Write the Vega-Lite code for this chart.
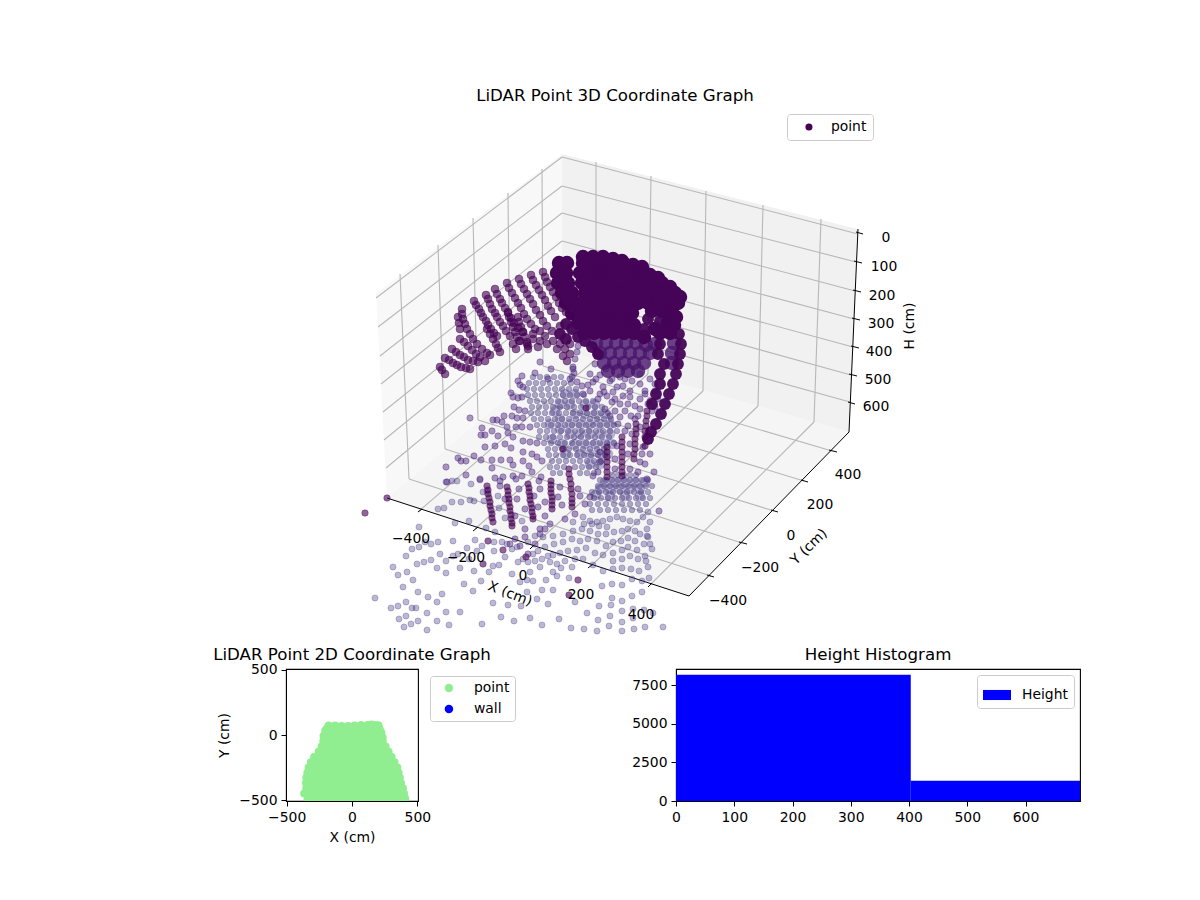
{
"$schema":"https://vega.github.io/schema/vega-lite/v6.json",
"padding":{"left":212,"top":88,"right":0,"bottom":0},
"background":"white",
"config":{"font":"DejaVu Sans","view":{"stroke":"black","strokeWidth":1.1},
"title":{"font":"DejaVu Sans","fontSize":16.67,"fontWeight":"normal","color":"black"},
"axis":{"grid":false,"labelFont":"DejaVu Sans","titleFont":"DejaVu Sans","labelFontSize":13.9,"titleFontSize":13.9,"titleFontWeight":"normal","labelColor":"black","titleColor":"black","tickColor":"black","domainColor":"black","tickSize":5,"labelPadding":4,"labelOverlap":false,"labelFlush":false,"labelBound":false,"format":"d"},
"legend":{"labelFont":"DejaVu Sans","labelFontSize":13.9,"labelColor":"black","fillColor":"white","strokeColor":"#cccccc","cornerRadius":3}},
"datasets":{
"panes":[{"p":"l","u":376,"v":294,"w":294},{"p":"l","u":387,"v":286,"w":499},{"p":"l","u":562,"v":155,"w":351},
{"p":"r","u":562,"v":155,"w":351},{"p":"r","u":849,"v":228,"w":433},{"p":"r","u":858,"v":230,"w":230},
{"p":"f","u":387,"v":499,"w":499},{"p":"f","u":563,"v":351,"w":556},{"p":"f","u":689,"v":387,"w":597},{"p":"f","u":849,"v":433,"w":433}],
"grid":[{"u":562,"v":158,"a":858,"b":235},{"u":562,"v":187,"a":856,"b":263},{"u":562,"v":214,"a":855,"b":292},{"u":562,"v":242,"a":854,"b":320},{"u":562,"v":269,"a":853,"b":348},{"u":562,"v":296,"a":851,"b":376},{"u":562,"v":323,"a":850,"b":403},
{"u":562,"v":158,"a":376,"b":299},{"u":562,"v":187,"a":378,"b":328},{"u":562,"v":214,"a":380,"b":357},{"u":562,"v":242,"a":381,"b":385},{"u":562,"v":269,"a":383,"b":413},{"u":562,"v":296,"a":384,"b":441},{"u":562,"v":323,"a":386,"b":469},
{"u":596,"v":163,"a":596,"b":360},{"u":651,"v":177,"a":648,"b":375},{"u":706,"v":192,"a":703,"b":392},{"u":763,"v":206,"a":758,"b":407},{"u":821,"v":220,"a":814,"b":423},
{"u":400,"v":275,"a":409,"b":480},{"u":438,"v":246,"a":445,"b":450},{"u":473,"v":219,"a":478,"b":421},{"u":508,"v":194,"a":510,"b":393},{"u":542,"v":170,"a":543,"b":367},
{"u":596,"v":360,"a":419,"b":512},{"u":648,"v":375,"a":475,"b":530},{"u":703,"v":392,"a":532,"b":548},{"u":758,"v":407,"a":591,"b":567},{"u":814,"v":423,"a":650,"b":586},
{"u":409,"v":480,"a":711,"b":577},{"u":445,"v":450,"a":742,"b":544},{"u":478,"v":421,"a":774,"b":512},{"u":510,"v":393,"a":804,"b":482},{"u":543,"v":367,"a":832,"b":452}],
"axes":[{"u":858,"v":230,"a":849,"b":433},{"u":849,"v":433,"a":689,"b":597},{"u":387,"v":499,"a":689,"b":597},
{"u":418,"v":513,"a":422,"b":510},{"u":473,"v":532,"a":478,"b":528},{"u":530,"v":550,"a":534,"b":546},{"u":588,"v":569,"a":593,"b":565},{"u":648,"v":588,"a":652,"b":584},
{"u":707,"v":576,"a":714,"b":578},{"u":739,"v":543,"a":747,"b":545},{"u":771,"v":511,"a":778,"b":513},{"u":801,"v":481,"a":808,"b":483},{"u":829,"v":451,"a":837,"b":453},
{"u":856,"v":233,"a":863,"b":235},{"u":854,"v":262,"a":862,"b":264},{"u":853,"v":291,"a":861,"b":293},{"u":852,"v":319,"a":860,"b":321},{"u":851,"v":347,"a":859,"b":349},{"u":849,"v":375,"a":857,"b":377},{"u":848,"v":403,"a":855,"b":405}],
"ticktext":[{"u":411,"v":540,"t":"−400"},{"u":466,"v":559,"t":"−200"},{"u":523,"v":577,"t":"0"},{"u":581,"v":596,"t":"200"},{"u":641,"v":616,"t":"400"},
{"u":728,"v":602,"t":"−400"},{"u":760,"v":569,"t":"−200"},{"u":791,"v":537,"t":"0"},{"u":820,"v":506,"t":"200"},{"u":848,"v":476,"t":"400"},
{"u":886,"v":239,"t":"0"},{"u":884,"v":268,"t":"100"},{"u":882,"v":297,"t":"200"},{"u":881,"v":325,"t":"300"},{"u":879,"v":353,"t":"400"},{"u":878,"v":381,"t":"500"},{"u":876,"v":408,"t":"600"}],
"floor":[{"u":419,"v":528},{"u":412,"v":550},{"u":419,"v":548},{"u":425,"v":543},{"u":431,"v":545},{"u":438,"v":543},{"u":453,"v":542},{"u":475,"v":541},{"u":406,"v":557},{"u":393,"v":568},{"u":398,"v":576},{"u":407,"v":573},{"u":413,"v":581},{"u":403,"v":588},{"u":417,"v":565},{"u":424,"v":563},{"u":431,"v":561},{"u":440,"v":555},{"u":446,"v":562},{"u":437,"v":569},{"u":446,"v":574},{"u":460,"v":569},{"u":474,"v":572},{"u":464,"v":585},{"u":481,"v":582},{"u":473,"v":592},{"u":418,"v":593},{"u":428,"v":598},{"u":442,"v":595},{"u":437,"v":603},{"u":406,"v":603},{"u":398,"v":607},{"u":391,"v":609},{"u":375,"v":599},{"u":412,"v":609},{"u":416,"v":609},{"u":427,"v":614},{"u":446,"v":613},{"u":460,"v":613},{"u":406,"v":617},{"u":399,"v":620},{"u":418,"v":622},{"u":411,"v":625},{"u":404,"v":628},{"u":437,"v":622},{"u":449,"v":626},{"u":427,"v":631},{"u":482,"v":625},{"u":501,"v":618},{"u":514,"v":622},{"u":493,"v":604},{"u":508,"v":606},{"u":521,"v":607},{"u":512,"v":575},{"u":527,"v":581},{"u":455,"v":524},{"u":469,"v":522},{"u":438,"v":510},{"u":444,"v":509},{"u":452,"v":503},{"u":461,"v":503},{"u":470,"v":501},{"u":474,"v":502},{"u":446,"v":483},{"u":452,"v":482},{"u":457,"v":482},{"u":471,"v":485},{"u":480,"v":481},{"u":483,"v":493},{"u":487,"v":492},{"u":498,"v":497},{"u":484,"v":502},{"u":499,"v":509},{"u":505,"v":519},{"u":522,"v":522},{"u":486,"v":529},{"u":495,"v":533},{"u":467,"v":549},{"u":458,"v":555},{"u":453,"v":557},{"u":469,"v":560},{"u":477,"v":552},{"u":482,"v":547},{"u":494,"v":552},{"u":494,"v":543},{"u":502,"v":543},{"u":507,"v":545},{"u":517,"v":548},{"u":512,"v":550},{"u":505,"v":558},{"u":499,"v":566},{"u":493,"v":567},{"u":489,"v":573},{"u":518,"v":563},{"u":523,"v":560},{"u":520,"v":583},
{"u":652,"v":550},{"u":650,"v":545},{"u":648,"v":538},{"u":647,"v":530},{"u":650,"v":523},{"u":648,"v":513},{"u":643,"v":518},{"u":637,"v":523},{"u":630,"v":522},{"u":623,"v":520},{"u":617,"v":518},{"u":610,"v":520},{"u":603,"v":522},{"u":597,"v":523},{"u":590,"v":522},{"u":583,"v":518},{"u":573,"v":523},{"u":645,"v":557},{"u":646,"v":562},{"u":638,"v":560},{"u":630,"v":557},{"u":622,"v":560},{"u":613,"v":562},{"u":603,"v":556},{"u":595,"v":554},{"u":586,"v":549},{"u":577,"v":551},{"u":568,"v":552},{"u":560,"v":554},{"u":553,"v":556},{"u":548,"v":557},{"u":542,"v":560},{"u":535,"v":562},{"u":528,"v":563},{"u":637,"v":551},{"u":628,"v":548},{"u":622,"v":551},{"u":613,"v":554},{"u":606,"v":547},{"u":597,"v":542},{"u":588,"v":540},{"u":580,"v":542},{"u":572,"v":540},{"u":563,"v":543},{"u":554,"v":545},{"u":545,"v":548},{"u":538,"v":552},{"u":533,"v":555},{"u":644,"v":545},{"u":635,"v":542},{"u":628,"v":539},{"u":621,"v":542},{"u":613,"v":543},{"u":606,"v":535},{"u":598,"v":535},{"u":590,"v":532},{"u":582,"v":530},{"u":573,"v":532},{"u":563,"v":535},{"u":553,"v":537},{"u":543,"v":538},{"u":535,"v":537},{"u":528,"v":543},{"u":647,"v":537},{"u":640,"v":535},{"u":635,"v":532},{"u":628,"v":530},{"u":622,"v":532},{"u":614,"v":533},{"u":607,"v":528},{"u":599,"v":527},{"u":592,"v":525},{"u":584,"v":525},{"u":648,"v":568},{"u":639,"v":572},{"u":631,"v":570},{"u":622,"v":569},{"u":613,"v":570},{"u":603,"v":572},{"u":593,"v":566},{"u":583,"v":560},{"u":575,"v":560},{"u":565,"v":562},{"u":557,"v":565},{"u":550,"v":563},{"u":540,"v":568},{"u":530,"v":573},{"u":649,"v":579},{"u":642,"v":582},{"u":632,"v":580},{"u":622,"v":586},{"u":612,"v":585},{"u":602,"v":587},{"u":572,"v":568},{"u":561,"v":569},{"u":553,"v":573},{"u":546,"v":581},{"u":557,"v":577},{"u":569,"v":579},{"u":533,"v":582},{"u":542,"v":591},{"u":553,"v":591},{"u":527,"v":593},{"u":642,"v":593},{"u":632,"v":597},{"u":612,"v":599},{"u":622,"v":602},{"u":599,"v":607},{"u":611,"v":606},{"u":587,"v":614},{"u":575,"v":603},{"u":548,"v":605},{"u":537,"v":600},{"u":622,"v":612},{"u":633,"v":610},{"u":644,"v":611},{"u":653,"v":614},{"u":610,"v":617},{"u":598,"v":621},{"u":622,"v":623},{"u":633,"v":619},{"u":530,"v":619},{"u":559,"v":620},{"u":542,"v":626},{"u":571,"v":629},{"u":584,"v":630},{"u":597,"v":632},{"u":609,"v":627},{"u":622,"v":632},{"u":634,"v":630},{"u":645,"v":628},{"u":663,"v":628}],
"fan":[{"u":533,"v":378},{"u":540,"v":378},{"u":547,"v":378},{"u":554,"v":378},{"u":561,"v":378},{"u":529,"v":384},{"u":536,"v":384},{"u":543,"v":384},{"u":550,"v":384},{"u":557,"v":384},{"u":564,"v":384},{"u":571,"v":384},{"u":527,"v":390},{"u":534,"v":390},{"u":541,"v":390},{"u":548,"v":390},{"u":555,"v":390},{"u":562,"v":390},{"u":569,"v":390},{"u":576,"v":390},{"u":528,"v":396},{"u":535,"v":396},{"u":542,"v":396},{"u":549,"v":396},{"u":556,"v":396},{"u":563,"v":396},{"u":570,"v":396},{"u":577,"v":396},{"u":584,"v":396},{"u":530,"v":402},{"u":537,"v":402},{"u":544,"v":402},{"u":551,"v":402},{"u":558,"v":402},{"u":565,"v":402},{"u":572,"v":402},{"u":579,"v":402},{"u":586,"v":402},{"u":593,"v":402},{"u":532,"v":408},{"u":539,"v":408},{"u":546,"v":408},{"u":553,"v":408},{"u":560,"v":408},{"u":567,"v":408},{"u":574,"v":408},{"u":581,"v":408},{"u":588,"v":408},{"u":595,"v":408},{"u":602,"v":408},{"u":531,"v":414},{"u":538,"v":414},{"u":545,"v":414},{"u":552,"v":414},{"u":559,"v":414},{"u":566,"v":414},{"u":573,"v":414},{"u":580,"v":414},{"u":587,"v":414},{"u":594,"v":414},{"u":601,"v":414},{"u":608,"v":414},{"u":534,"v":420},{"u":541,"v":420},{"u":548,"v":420},{"u":555,"v":420},{"u":562,"v":420},{"u":569,"v":420},{"u":576,"v":420},{"u":583,"v":420},{"u":590,"v":420},{"u":597,"v":420},{"u":604,"v":420},{"u":611,"v":420},{"u":537,"v":426},{"u":544,"v":426},{"u":551,"v":426},{"u":558,"v":426},{"u":565,"v":426},{"u":572,"v":426},{"u":579,"v":426},{"u":586,"v":426},{"u":593,"v":426},{"u":600,"v":426},{"u":607,"v":426},{"u":614,"v":426},{"u":540,"v":432},{"u":547,"v":432},{"u":554,"v":432},{"u":561,"v":432},{"u":568,"v":432},{"u":575,"v":432},{"u":582,"v":432},{"u":589,"v":432},{"u":596,"v":432},{"u":603,"v":432},{"u":610,"v":432},{"u":617,"v":432},{"u":539,"v":438},{"u":546,"v":438},{"u":553,"v":438},{"u":560,"v":438},{"u":567,"v":438},{"u":574,"v":438},{"u":581,"v":438},{"u":588,"v":438},{"u":595,"v":438},{"u":602,"v":438},{"u":609,"v":438},{"u":544,"v":444},{"u":551,"v":444},{"u":558,"v":444},{"u":565,"v":444},{"u":572,"v":444},{"u":579,"v":444},{"u":586,"v":444},{"u":593,"v":444},{"u":600,"v":444},{"u":607,"v":444},{"u":614,"v":444},{"u":548,"v":450},{"u":555,"v":450},{"u":562,"v":450},{"u":569,"v":450},{"u":576,"v":450},{"u":583,"v":450},{"u":590,"v":450},{"u":597,"v":450},{"u":604,"v":450},{"u":549,"v":456},{"u":556,"v":456},{"u":563,"v":456},{"u":570,"v":456},{"u":577,"v":456},{"u":584,"v":456},{"u":591,"v":456},{"u":598,"v":456},{"u":605,"v":456},{"u":552,"v":462},{"u":559,"v":462},{"u":566,"v":462},{"u":573,"v":462},{"u":580,"v":462},{"u":587,"v":462},{"u":594,"v":462},{"u":601,"v":462},{"u":550,"v":468},{"u":557,"v":468},{"u":564,"v":468},{"u":575,"v":468},{"u":582,"v":468},{"u":589,"v":468},{"u":596,"v":468},{"u":553,"v":474},{"u":560,"v":474},{"u":580,"v":474},{"u":587,"v":474},{"u":594,"v":474},
{"u":612,"v":476},{"u":618,"v":476},{"u":624,"v":476},{"u":630,"v":476},{"u":636,"v":476},{"u":600,"v":481},{"u":606,"v":481},{"u":612,"v":481},{"u":618,"v":481},{"u":624,"v":481},{"u":630,"v":481},{"u":636,"v":481},{"u":642,"v":481},{"u":648,"v":481},{"u":598,"v":487},{"u":604,"v":487},{"u":610,"v":487},{"u":616,"v":487},{"u":622,"v":487},{"u":628,"v":487},{"u":634,"v":487},{"u":640,"v":487},{"u":646,"v":487},{"u":652,"v":487},{"u":592,"v":493},{"u":599,"v":493},{"u":606,"v":493},{"u":613,"v":493},{"u":620,"v":493},{"u":627,"v":493},{"u":634,"v":493},{"u":641,"v":493},{"u":648,"v":493},{"u":594,"v":499},{"u":601,"v":499},{"u":608,"v":499},{"u":615,"v":499},{"u":622,"v":499},{"u":629,"v":499},{"u":636,"v":499},{"u":643,"v":499},{"u":650,"v":499},{"u":590,"v":505},{"u":598,"v":505},{"u":606,"v":505},{"u":614,"v":505},{"u":622,"v":505},{"u":630,"v":505},{"u":638,"v":505},{"u":646,"v":505},{"u":592,"v":511},{"u":600,"v":511},{"u":608,"v":511},{"u":616,"v":511},{"u":624,"v":511},{"u":632,"v":511},{"u":640,"v":511}],
"core":[{"u":585,"v":405},{"u":595,"v":405},{"u":575,"v":415},{"u":585,"v":415},{"u":595,"v":415},{"u":605,"v":415},{"u":570,"v":425},{"u":580,"v":425},{"u":590,"v":425},{"u":600,"v":425},{"u":610,"v":425},{"u":570,"v":435},{"u":580,"v":435},{"u":590,"v":435},{"u":600,"v":435},{"u":610,"v":435},{"u":575,"v":445},{"u":585,"v":445},{"u":595,"v":445},{"u":605,"v":445},{"u":612,"v":445},{"u":580,"v":455},{"u":590,"v":455},{"u":600,"v":455},{"u":608,"v":455},{"u":590,"v":465},{"u":600,"v":465},{"u":605,"v":483},{"u":615,"v":483},{"u":625,"v":483},{"u":635,"v":483},{"u":645,"v":483},{"u":600,"v":490},{"u":610,"v":490},{"u":620,"v":490},{"u":630,"v":490},{"u":640,"v":490},{"u":560,"v":420},{"u":560,"v":430},{"u":562,"v":445},{"u":566,"v":455},{"u":570,"v":405},{"u":560,"v":405},{"u":550,"v":425},{"u":552,"v":440},{"u":555,"v":412},{"u":575,"v":395},{"u":565,"v":395},{"u":596,"v":496},{"u":610,"v":497},{"u":625,"v":497},{"u":640,"v":497}],
"mid":[{"u":470,"v":419},{"u":493,"v":421},{"u":497,"v":421},{"u":504,"v":417},{"u":512,"v":417},{"u":482,"v":429},{"u":481,"v":436},{"u":485,"v":436},{"u":492,"v":432},{"u":498,"v":437},{"u":502,"v":423},{"u":507,"v":428},{"u":508,"v":434},{"u":513,"v":438},{"u":485,"v":448},{"u":495,"v":447},{"u":505,"v":445},{"u":511,"v":449},{"u":474,"v":457},{"u":458,"v":459},{"u":461,"v":462},{"u":466,"v":462},{"u":481,"v":461},{"u":492,"v":461},{"u":501,"v":461},{"u":510,"v":461},{"u":513,"v":466},{"u":523,"v":462},{"u":529,"v":467},{"u":492,"v":469},{"u":446,"v":468},{"u":466,"v":476},{"u":447,"v":483},{"u":480,"v":480},{"u":495,"v":479},{"u":500,"v":482},{"u":513,"v":477},{"u":522,"v":477},{"u":532,"v":473},{"u":539,"v":482},
{"u":511,"v":394},{"u":513,"v":398},{"u":518,"v":399},{"u":522,"v":398},{"u":514,"v":408},{"u":519,"v":411},{"u":525,"v":412},{"u":517,"v":419},{"u":523,"v":419},{"u":516,"v":428},{"u":522,"v":428},{"u":530,"v":428},{"u":523,"v":442},{"u":530,"v":443},{"u":537,"v":444},{"u":523,"v":453},{"u":532,"v":455},{"u":537,"v":458},{"u":542,"v":462},{"u":518,"v":382},{"u":520,"v":386},{"u":523,"v":388},{"u":522,"v":377},{"u":535,"v":374},{"u":551,"v":370},{"u":548,"v":380},{"u":540,"v":363},{"u":575,"v":360},{"u":573,"v":370},{"u":578,"v":347},{"u":577,"v":353},{"u":572,"v":378},
{"u":573,"v":368},{"u":574,"v":374},{"u":570,"v":380},{"u":577,"v":383},{"u":582,"v":387},{"u":588,"v":386},{"u":593,"v":383},{"u":600,"v":376},{"u":603,"v":388},{"u":604,"v":393},{"u":598,"v":400},{"u":607,"v":397},{"u":613,"v":393},{"u":617,"v":388},{"u":623,"v":387},{"u":630,"v":392},{"u":623,"v":397},{"u":620,"v":405},{"u":628,"v":405},{"u":635,"v":407},{"u":640,"v":400},{"u":640,"v":410},{"u":638,"v":417},{"u":620,"v":418},{"u":631,"v":417},{"u":625,"v":432},{"u":628,"v":427},{"u":612,"v":403},{"u":615,"v":412},{"u":610,"v":417},{"u":642,"v":455},{"u":643,"v":448},{"u":640,"v":463},{"u":647,"v":480},{"u":638,"v":473},{"u":630,"v":470},{"u":617,"v":447},{"u":615,"v":460},{"u":615,"v":470},{"u":600,"v":453},{"u":600,"v":463},{"u":598,"v":473},{"u":593,"v":477},{"u":654,"v":473},{"u":659,"v":512},
{"u":540,"v":490},{"u":534,"v":497},{"u":545,"v":503},{"u":558,"v":498},{"u":562,"v":506},{"u":580,"v":497},{"u":585,"v":505},{"u":575,"v":515},{"u":565,"v":520},{"u":545,"v":517},{"u":538,"v":508},{"u":525,"v":510},{"u":517,"v":500},{"u":519,"v":490},{"u":500,"v":487},{"u":505,"v":500},{"u":515,"v":517},{"u":550,"v":525},{"u":540,"v":530},{"u":525,"v":530},{"u":578,"v":490},{"u":590,"v":498},{"u":560,"v":488},{"u":541,"v":478},{"u":516,"v":480},{"u":503,"v":478},{"u":525,"v":538},{"u":535,"v":545},{"u":540,"v":535},{"u":528,"v":555},{"u":545,"v":530},{"u":520,"v":547},{"u":510,"v":545},{"u":515,"v":540},
{"u":640,"v":375},{"u":650,"v":380},{"u":645,"v":392},{"u":655,"v":392},{"u":650,"v":402},{"u":652,"v":412},{"u":606,"v":370},{"u":620,"v":378},{"u":632,"v":382},{"u":595,"v":365},{"u":590,"v":375},
{"u":596,"v":380},{"u":610,"v":382},{"u":625,"v":380},{"u":640,"v":385},{"u":655,"v":385},{"u":600,"v":395},{"u":615,"v":400},{"u":630,"v":398},{"u":645,"v":395},{"u":658,"v":400},{"u":605,"v":410},{"u":625,"v":412},{"u":635,"v":420},{"u":648,"v":405},{"u":655,"v":408},{"u":618,"v":425},{"u":632,"v":435},{"u":640,"v":428},{"u":630,"v":445},{"u":628,"v":455},{"u":645,"v":465},{"u":650,"v":455},{"u":612,"v":380},{"u":590,"v":392},{"u":583,"v":395}],
"stripe":[{"u":474,"v":302},{"u":476,"v":306},{"u":479,"v":310},{"u":481,"v":314},{"u":483,"v":318},{"u":486,"v":322},{"u":488,"v":326},{"u":491,"v":330},{"u":494,"v":334},{"u":497,"v":337},{"u":486,"v":296},{"u":488,"v":300},{"u":490,"v":305},{"u":492,"v":310},{"u":495,"v":314},{"u":497,"v":318},{"u":500,"v":323},{"u":503,"v":327},{"u":506,"v":332},{"u":510,"v":337},{"u":495,"v":290},{"u":497,"v":295},{"u":500,"v":300},{"u":502,"v":304},{"u":505,"v":309},{"u":508,"v":314},{"u":511,"v":319},{"u":514,"v":324},{"u":518,"v":329},{"u":523,"v":333},{"u":507,"v":284},{"u":509,"v":289},{"u":512,"v":294},{"u":515,"v":299},{"u":518,"v":304},{"u":521,"v":309},{"u":524,"v":315},{"u":527,"v":320},{"u":531,"v":325},{"u":535,"v":330},{"u":519,"v":280},{"u":521,"v":285},{"u":524,"v":290},{"u":527,"v":295},{"u":530,"v":300},{"u":533,"v":305},{"u":536,"v":311},{"u":540,"v":316},{"u":543,"v":322},{"u":547,"v":327},{"u":531,"v":276},{"u":533,"v":281},{"u":536,"v":286},{"u":539,"v":291},{"u":542,"v":296},{"u":545,"v":301},{"u":548,"v":307},{"u":551,"v":312},{"u":555,"v":318},{"u":560,"v":327},{"u":543,"v":273},{"u":545,"v":278},{"u":547,"v":283},{"u":550,"v":288},{"u":553,"v":293},{"u":556,"v":298},{"u":559,"v":304},{"u":562,"v":309},{"u":566,"v":313},{"u":570,"v":317},{"u":462,"v":310},{"u":462,"v":315},{"u":463,"v":320},{"u":465,"v":325},{"u":467,"v":330},{"u":470,"v":335},{"u":473,"v":340},{"u":477,"v":345},{"u":482,"v":350},{"u":487,"v":354},{"u":490,"v":356},{"u":458,"v":318},{"u":459,"v":324},{"u":460,"v":330},{"u":452,"v":350},{"u":456,"v":353},{"u":460,"v":356},{"u":464,"v":358},{"u":468,"v":361},{"u":473,"v":362},{"u":478,"v":363},{"u":445,"v":359},{"u":449,"v":361},{"u":453,"v":364},{"u":457,"v":366},{"u":461,"v":368},{"u":466,"v":369},{"u":470,"v":370},{"u":440,"v":368},{"u":442,"v":371},{"u":445,"v":375},{"u":460,"v":340},{"u":464,"v":343},{"u":468,"v":347},{"u":472,"v":351},{"u":476,"v":355},{"u":480,"v":358},{"u":485,"v":362},{"u":487,"v":330},{"u":490,"v":335},{"u":493,"v":340},{"u":496,"v":345},{"u":498,"v":349},{"u":500,"v":353},
{"u":508,"v":313},{"u":509,"v":318},{"u":511,"v":323},{"u":513,"v":328},{"u":515,"v":333},{"u":517,"v":338},{"u":519,"v":342},{"u":518,"v":318},{"u":519,"v":323},{"u":521,"v":328},{"u":523,"v":333},{"u":525,"v":338},{"u":527,"v":343},{"u":528,"v":347},{"u":513,"v":345},{"u":520,"v":342},{"u":527,"v":345},{"u":533,"v":340},{"u":540,"v":342},{"u":547,"v":345},{"u":553,"v":342},{"u":560,"v":345},{"u":565,"v":350},{"u":570,"v":345},{"u":557,"v":350},{"u":563,"v":357},{"u":567,"v":362},{"u":570,"v":355},{"u":538,"v":348},{"u":528,"v":350},{"u":516,"v":350},{"u":533,"v":335},{"u":540,"v":332},{"u":545,"v":337},{"u":552,"v":332}],
"dark":[{"u":647,"v":412},{"u":647,"v":417},{"u":646,"v":422},{"u":646,"v":427},{"u":645,"v":432},{"u":645,"v":438},{"u":636,"v":425},{"u":636,"v":430},{"u":636,"v":435},{"u":635,"v":440},{"u":635,"v":445},{"u":635,"v":450},{"u":634,"v":455},{"u":634,"v":460},{"u":622,"v":438},{"u":622,"v":443},{"u":622,"v":448},{"u":622,"v":453},{"u":622,"v":458},{"u":622,"v":463},{"u":622,"v":468},{"u":622,"v":473},{"u":622,"v":477},{"u":607,"v":448},{"u":607,"v":453},{"u":607,"v":458},{"u":607,"v":463},{"u":607,"v":468},{"u":607,"v":473},{"u":607,"v":478},{"u":569,"v":470},{"u":569,"v":475},{"u":570,"v":480},{"u":571,"v":485},{"u":571,"v":490},{"u":572,"v":495},{"u":572,"v":500},{"u":572,"v":504},{"u":572,"v":508},{"u":487,"v":487},{"u":488,"v":491},{"u":488,"v":495},{"u":489,"v":499},{"u":490,"v":503},{"u":490,"v":507},{"u":491,"v":511},{"u":492,"v":515},{"u":492,"v":519},{"u":493,"v":523},{"u":507,"v":488},{"u":508,"v":492},{"u":508,"v":496},{"u":509,"v":500},{"u":509,"v":504},{"u":510,"v":508},{"u":510,"v":512},{"u":511,"v":516},{"u":511,"v":520},{"u":512,"v":524},{"u":512,"v":527},{"u":528,"v":485},{"u":529,"v":489},{"u":529,"v":493},{"u":530,"v":497},{"u":530,"v":501},{"u":531,"v":505},{"u":532,"v":509},{"u":532,"v":513},{"u":533,"v":517},{"u":533,"v":520},{"u":551,"v":482},{"u":551,"v":486},{"u":551,"v":490},{"u":551,"v":494},{"u":552,"v":498},{"u":552,"v":502},{"u":552,"v":506},{"u":552,"v":510},
{"u":365,"v":514},{"u":387,"v":499},{"u":488,"v":542},{"u":503,"v":551},{"u":483,"v":565},{"u":578,"v":581},{"u":569,"v":596},{"u":586,"v":409},{"u":563,"v":450},{"u":526,"v":558},{"u":645,"v":447}],
"band":[{"u":679,"v":335},{"u":681,"v":345},{"u":680,"v":355},{"u":678,"v":365},{"u":676,"v":375},{"u":673,"v":385},{"u":669,"v":395},{"u":665,"v":405},{"u":661,"v":415},{"u":656,"v":425},{"u":651,"v":433},{"u":648,"v":440},{"u":566,"v":325},{"u":572,"v":330},{"u":578,"v":338},{"u":585,"v":342},{"u":592,"v":348},{"u":598,"v":355},{"u":566,"v":340},{"u":560,"v":335},{"u":648,"v":320},{"u":660,"v":322},{"u":644,"v":330},{"u":660,"v":345},{"u":658,"v":355},{"u":664,"v":365},{"u":660,"v":375},{"u":660,"v":385},{"u":656,"v":395},{"u":652,"v":405}],
"mass":[{"u":559,"v":264},{"u":567,"v":264},{"u":583,"v":258},{"u":593,"v":258},{"u":603,"v":258},{"u":613,"v":260},{"u":622,"v":262},{"u":583,"v":264},{"u":593,"v":264},{"u":603,"v":264},{"u":613,"v":264},{"u":623,"v":264},{"u":633,"v":266},{"u":642,"v":268},{"u":557,"v":274},{"u":566,"v":274},{"u":580,"v":274},{"u":590,"v":274},{"u":600,"v":274},{"u":610,"v":274},{"u":620,"v":274},{"u":630,"v":274},{"u":640,"v":274},{"u":650,"v":276},{"u":658,"v":279},{"u":558,"v":284},{"u":568,"v":284},{"u":582,"v":284},{"u":592,"v":284},{"u":602,"v":284},{"u":612,"v":284},{"u":622,"v":284},{"u":632,"v":284},{"u":642,"v":284},{"u":652,"v":284},{"u":662,"v":284},{"u":670,"v":288},{"u":562,"v":294},{"u":572,"v":294},{"u":585,"v":294},{"u":595,"v":294},{"u":605,"v":294},{"u":615,"v":294},{"u":625,"v":294},{"u":635,"v":294},{"u":645,"v":294},{"u":655,"v":294},{"u":665,"v":294},{"u":675,"v":294},{"u":680,"v":298},{"u":566,"v":304},{"u":576,"v":304},{"u":588,"v":304},{"u":598,"v":304},{"u":608,"v":304},{"u":618,"v":304},{"u":628,"v":304},{"u":638,"v":304},{"u":648,"v":304},{"u":658,"v":304},{"u":668,"v":304},{"u":678,"v":304},{"u":572,"v":314},{"u":582,"v":314},{"u":592,"v":314},{"u":602,"v":314},{"u":612,"v":314},{"u":622,"v":314},{"u":632,"v":314},{"u":652,"v":312},{"u":662,"v":312},{"u":672,"v":314},{"u":676,"v":318},{"u":578,"v":324},{"u":588,"v":324},{"u":598,"v":324},{"u":608,"v":324},{"u":618,"v":324},{"u":628,"v":324},{"u":634,"v":326},{"u":655,"v":330},{"u":668,"v":324},{"u":674,"v":326},{"u":584,"v":334},{"u":594,"v":334},{"u":604,"v":334},{"u":614,"v":334},{"u":624,"v":334},{"u":634,"v":334},{"u":644,"v":338},{"u":660,"v":334},{"u":670,"v":334}],
"lowmass":[{"u":596,"v":344},{"u":606,"v":344},{"u":616,"v":344},{"u":626,"v":344},{"u":636,"v":344},{"u":646,"v":346},{"u":655,"v":345},{"u":674,"v":344},{"u":600,"v":354},{"u":610,"v":354},{"u":620,"v":354},{"u":630,"v":354},{"u":640,"v":354},{"u":650,"v":354},{"u":672,"v":354},{"u":604,"v":364},{"u":614,"v":364},{"u":624,"v":364},{"u":634,"v":364},{"u":644,"v":364},{"u":672,"v":364},{"u":608,"v":372},{"u":618,"v":372},{"u":628,"v":372},{"u":638,"v":372}],
"p2d":[{"x":-180,"y":72},{"x":-130,"y":72},{"x":-80,"y":68},{"x":-30,"y":68},{"x":20,"y":72},{"x":70,"y":76},{"x":120,"y":76},{"x":170,"y":76},{"x":203,"y":72},{"x":-165,"y":62},{"x":-195,"y":45},{"x":195,"y":75},{"x":150,"y":80},{"x":-120,"y":65},{"x":210,"y":50},{"x":225,"y":20},{"x":235,"y":-20},{"x":-205,"y":32},{"x":-155,"y":32},{"x":-105,"y":32},{"x":-55,"y":32},{"x":-5,"y":32},{"x":45,"y":32},{"x":95,"y":32},{"x":145,"y":32},{"x":195,"y":32},{"x":215,"y":32},{"x":-218,"y":-8},{"x":-180,"y":-8},{"x":-130,"y":-8},{"x":-80,"y":-8},{"x":-30,"y":-8},{"x":20,"y":-8},{"x":70,"y":-8},{"x":120,"y":-8},{"x":170,"y":-8},{"x":217,"y":-8},{"x":-220,"y":-48},{"x":-170,"y":-48},{"x":-120,"y":-48},{"x":-70,"y":-48},{"x":-20,"y":-48},{"x":30,"y":-48},{"x":80,"y":-48},{"x":130,"y":-48},{"x":180,"y":-48},{"x":235,"y":-48},{"x":-233,"y":-88},{"x":-195,"y":-88},{"x":-145,"y":-88},{"x":-95,"y":-88},{"x":-45,"y":-88},{"x":5,"y":-88},{"x":55,"y":-88},{"x":105,"y":-88},{"x":155,"y":-88},{"x":205,"y":-88},{"x":257,"y":-88},{"x":-255,"y":-128},{"x":-210,"y":-128},{"x":-160,"y":-128},{"x":-110,"y":-128},{"x":-60,"y":-128},{"x":-10,"y":-128},{"x":40,"y":-128},{"x":90,"y":-128},{"x":140,"y":-128},{"x":190,"y":-128},{"x":240,"y":-128},{"x":280,"y":-128},{"x":-290,"y":-168},{"x":-240,"y":-168},{"x":-190,"y":-168},{"x":-140,"y":-168},{"x":-90,"y":-168},{"x":-40,"y":-168},{"x":10,"y":-168},{"x":60,"y":-168},{"x":110,"y":-168},{"x":160,"y":-168},{"x":210,"y":-168},{"x":260,"y":-168},{"x":303,"y":-168},{"x":-315,"y":-208},{"x":-265,"y":-208},{"x":-215,"y":-208},{"x":-165,"y":-208},{"x":-115,"y":-208},{"x":-65,"y":-208},{"x":-15,"y":-208},{"x":35,"y":-208},{"x":85,"y":-208},{"x":135,"y":-208},{"x":185,"y":-208},{"x":235,"y":-208},{"x":285,"y":-208},{"x":325,"y":-208},{"x":-332,"y":-248},{"x":-285,"y":-248},{"x":-235,"y":-248},{"x":-185,"y":-248},{"x":-135,"y":-248},{"x":-85,"y":-248},{"x":-35,"y":-248},{"x":15,"y":-248},{"x":65,"y":-248},{"x":115,"y":-248},{"x":165,"y":-248},{"x":215,"y":-248},{"x":265,"y":-248},{"x":315,"y":-248},{"x":347,"y":-248},{"x":-342,"y":-288},{"x":-300,"y":-288},{"x":-250,"y":-288},{"x":-200,"y":-288},{"x":-150,"y":-288},{"x":-100,"y":-288},{"x":-50,"y":-288},{"x":0,"y":-288},{"x":50,"y":-288},{"x":100,"y":-288},{"x":150,"y":-288},{"x":200,"y":-288},{"x":250,"y":-288},{"x":300,"y":-288},{"x":357,"y":-288},{"x":-350,"y":-328},{"x":-310,"y":-328},{"x":-260,"y":-328},{"x":-210,"y":-328},{"x":-160,"y":-328},{"x":-110,"y":-328},{"x":-60,"y":-328},{"x":-10,"y":-328},{"x":40,"y":-328},{"x":90,"y":-328},{"x":140,"y":-328},{"x":190,"y":-328},{"x":240,"y":-328},{"x":290,"y":-328},{"x":340,"y":-328},{"x":366,"y":-328},{"x":-352,"y":-368},{"x":-300,"y":-368},{"x":-250,"y":-368},{"x":-200,"y":-368},{"x":-150,"y":-368},{"x":-100,"y":-368},{"x":-50,"y":-368},{"x":0,"y":-368},{"x":50,"y":-368},{"x":100,"y":-368},{"x":150,"y":-368},{"x":200,"y":-368},{"x":250,"y":-368},{"x":300,"y":-368},{"x":350,"y":-368},{"x":375,"y":-368},{"x":-350,"y":-408},{"x":-310,"y":-408},{"x":-260,"y":-408},{"x":-210,"y":-408},{"x":-160,"y":-408},{"x":-110,"y":-408},{"x":-60,"y":-408},{"x":-10,"y":-408},{"x":40,"y":-408},{"x":90,"y":-408},{"x":140,"y":-408},{"x":190,"y":-408},{"x":240,"y":-408},{"x":290,"y":-408},{"x":340,"y":-408},{"x":390,"y":-408},{"x":-366,"y":-448},{"x":-300,"y":-448},{"x":-250,"y":-448},{"x":-200,"y":-448},{"x":-150,"y":-448},{"x":-100,"y":-448},{"x":-50,"y":-448},{"x":0,"y":-448},{"x":50,"y":-448},{"x":100,"y":-448},{"x":150,"y":-448},{"x":200,"y":-448},{"x":250,"y":-448},{"x":300,"y":-448},{"x":350,"y":-448},{"x":398,"y":-448},{"x":-340,"y":-488},{"x":-285,"y":-488},{"x":-235,"y":-488},{"x":-185,"y":-488},{"x":-135,"y":-488},{"x":-85,"y":-488},{"x":-35,"y":-488},{"x":15,"y":-488},{"x":65,"y":-488},{"x":115,"y":-488},{"x":165,"y":-488},{"x":215,"y":-488},{"x":265,"y":-488},{"x":315,"y":-488},{"x":365,"y":-488},{"x":408,"y":-488},{"x":-335,"y":-448},{"x":-340,"y":-408},{"x":330,"y":-488},{"x":380,"y":-470}],
"hist":[{"h0":0,"h1":403,"n":8195,"z":0},{"h0":403,"h1":693.5,"n":1318,"z":0}]
},
"vconcat":[
{"width":658,"height":531,"view":{"stroke":null},
"title":{"text":"LiDAR Point 3D Coordinate Graph","anchor":"middle","offset":-1},
"encoding":{
"x":{"field":"u","type":"quantitative","axis":null,"scale":{"domain":[286,944],"nice":false,"zero":false}},
"y":{"field":"v","type":"quantitative","axis":null,"scale":{"domain":[636,105],"nice":false,"zero":false}}},
"layer":[
{"data":{"name":"panes"},"transform":[{"filter":"datum.p=='l'"}],"mark":{"type":"area","color":"#f8f8f8"},"encoding":{"y":{"field":"v","type":"quantitative","stack":null},"y2":{"field":"w"}}},
{"data":{"name":"panes"},"transform":[{"filter":"datum.p=='r'"}],"mark":{"type":"area","color":"#f1f1f1"},"encoding":{"y":{"field":"v","type":"quantitative","stack":null},"y2":{"field":"w"}}},
{"data":{"name":"panes"},"transform":[{"filter":"datum.p=='f'"}],"mark":{"type":"area","color":"#f5f5f5"},"encoding":{"y":{"field":"v","type":"quantitative","stack":null},"y2":{"field":"w"}}},
{"data":{"name":"grid"},"mark":{"type":"rule","color":"#b7b7b7","strokeWidth":1.1},"encoding":{"x2":{"field":"a"},"y2":{"field":"b"}}},
{"data":{"name":"axes"},"mark":{"type":"rule","color":"black","strokeWidth":1},"encoding":{"x2":{"field":"a"},"y2":{"field":"b"}}},
{"data":{"name":"floor"},"mark":{"type":"circle","clip":true,"size":38,"color":"#453781","fillOpacity":0.36,"stroke":"#453781","strokeOpacity":0.28,"strokeWidth":1}},
{"data":{"name":"fan"},"mark":{"type":"circle","clip":true,"size":32,"color":"#453781","fillOpacity":0.42,"stroke":"#453781","strokeOpacity":0.3,"strokeWidth":1}},
{"data":{"name":"core"},"mark":{"type":"circle","clip":true,"size":110,"color":"#453781","fillOpacity":0.36}},
{"data":{"name":"mid"},"mark":{"type":"circle","clip":true,"size":40,"color":"#46207a","fillOpacity":0.45,"stroke":"#46207a","strokeOpacity":0.35,"strokeWidth":1}},
{"data":{"name":"lowmass"},"mark":{"type":"circle","size":210,"color":"#48146b","fillOpacity":0.8}},
{"data":{"name":"mass"},"mark":{"type":"circle","size":210,"color":"#450457","fillOpacity":1}},
{"data":{"name":"band"},"mark":{"type":"circle","size":140,"color":"#450457","fillOpacity":0.95}},
{"data":{"name":"dark"},"mark":{"type":"circle","size":42,"color":"#440154","fillOpacity":0.6,"stroke":"#440154","strokeOpacity":0.35,"strokeWidth":1}},
{"data":{"name":"stripe"},"mark":{"type":"circle","size":64,"fillOpacity":0.62,"stroke":"#440154","strokeOpacity":0.35,"strokeWidth":1},
"encoding":{"color":{"datum":"point","scale":{"domain":["point"],"range":["#440154"]},"legend":{"title":null,"orient":"none","legendX":501,"legendY":10,"symbolOpacity":1,"symbolSize":50,"labelOffset":15,"symbolOffset":9,"padding":6,"symbolStrokeWidth":0}}}},
{"data":{"name":"ticktext"},"mark":{"type":"text","font":"DejaVu Sans","fontSize":13.9,"color":"black","align":"center","baseline":"middle"},"encoding":{"text":{"field":"t"}}},
{"data":{"values":[{"u":510,"v":595,"t":"X (cm)"}]},"mark":{"type":"text","font":"DejaVu Sans","fontSize":13.9,"color":"black","align":"center","baseline":"middle","angle":21},"encoding":{"text":{"field":"t"}}},
{"data":{"values":[{"u":809,"v":548,"t":"Y (cm)"}]},"mark":{"type":"text","font":"DejaVu Sans","fontSize":13.9,"color":"black","align":"center","baseline":"middle","angle":-44},"encoding":{"text":{"field":"t"}}},
{"data":{"values":[{"u":910,"v":327,"t":"H (cm)"}]},"mark":{"type":"text","font":"DejaVu Sans","fontSize":13.9,"color":"black","align":"center","baseline":"middle","angle":-90},"encoding":{"text":{"field":"t"}}}
]},
{"hconcat":[
{"width":132,"height":132,
"title":{"text":"LiDAR Point 2D Coordinate Graph","anchor":"middle","offset":-1},
"data":{"name":"p2d"},
"mark":{"type":"circle","size":64,"clip":true,"opacity":1},
"encoding":{
"x":{"field":"x","type":"quantitative","title":"X (cm)","scale":{"domain":[-505,505],"nice":false,"zero":false},"axis":{"values":[-500,0,500],"titlePadding":7}},
"y":{"field":"y","type":"quantitative","title":"Y (cm)","scale":{"domain":[-505,505],"nice":false,"zero":false},"axis":{"values":[-500,0,500],"titlePadding":7}},
"color":{"datum":"point","scale":{"domain":["point","wall"],"range":["#90ee90","#0000ff"]},"legend":{"title":null,"orient":"none","legendX":144,"legendY":7,"symbolSize":72,"symbolType":"circle","labelOffset":18,"symbolOffset":7,"padding":5,"rowPadding":6,"symbolOpacity":1}}
}},
{"width":404,"height":132,
"title":{"text":"Height Histogram","anchor":"middle","offset":5},
"data":{"name":"hist"},
"mark":{"type":"rect","clip":true},
"encoding":{
"x":{"field":"h0","type":"quantitative","title":null,"scale":{"domain":[0,693.5],"nice":false},"axis":{"values":[0,100,200,300,400,500,600]}},
"x2":{"field":"h1"},
"y":{"field":"n","type":"quantitative","title":null,"scale":{"domain":[0,8565],"nice":false},"axis":{"values":[0,2500,5000,7500]}},
"y2":{"field":"z"},
"color":{"datum":"Height","scale":{"domain":["Height"],"range":["#0000ff"]},"legend":{"title":null,"orient":"none","legendX":301,"legendY":6,"symbolType":"M-1,-0.36H1V0.36H-1Z","symbolSize":784,"labelOffset":11,"padding":6,"symbolStrokeWidth":0,"symbolOpacity":1}}
}}
],"spacing":114,"resolve":{"scale":{"color":"independent"}}}
],"spacing":11}
